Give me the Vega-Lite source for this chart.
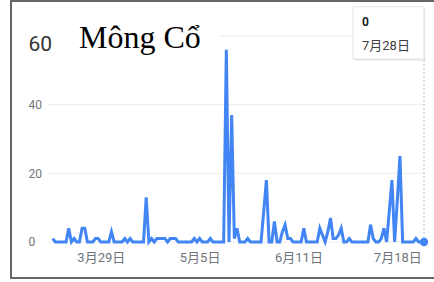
{
  "$schema": "https://vega.github.io/schema/vega-lite/v6.json",
  "width": 423,
  "height": 277,
  "autosize": "none",
  "padding": {"left": 11, "top": 1, "right": 0, "bottom": 4},
  "background": "white",
  "config": {"view": {"stroke": null}, "font": "Roboto, 'Noto Sans CJK SC', sans-serif"},
  "datasets": {
    "trend": [
      {"d":"2020-03-11T00:00:00","v":1},{"d":"2020-03-12T00:00:00","v":0},{"d":"2020-03-13T00:00:00","v":0},{"d":"2020-03-14T00:00:00","v":0},{"d":"2020-03-15T00:00:00","v":0},{"d":"2020-03-16T00:00:00","v":0},{"d":"2020-03-17T00:00:00","v":4},{"d":"2020-03-18T00:00:00","v":0},{"d":"2020-03-19T00:00:00","v":1},{"d":"2020-03-20T00:00:00","v":0},
      {"d":"2020-03-21T00:00:00","v":0},{"d":"2020-03-22T00:00:00","v":4},{"d":"2020-03-23T00:00:00","v":4},{"d":"2020-03-24T00:00:00","v":0},{"d":"2020-03-25T00:00:00","v":0},{"d":"2020-03-26T00:00:00","v":0},{"d":"2020-03-27T00:00:00","v":1},{"d":"2020-03-28T00:00:00","v":1},{"d":"2020-03-29T00:00:00","v":0},{"d":"2020-03-30T00:00:00","v":0},
      {"d":"2020-03-31T00:00:00","v":0},{"d":"2020-04-01T00:00:00","v":0},{"d":"2020-04-02T00:00:00","v":3},{"d":"2020-04-03T00:00:00","v":0},{"d":"2020-04-04T00:00:00","v":0},{"d":"2020-04-05T00:00:00","v":0},{"d":"2020-04-06T00:00:00","v":0},{"d":"2020-04-07T00:00:00","v":1},{"d":"2020-04-08T00:00:00","v":0},{"d":"2020-04-09T00:00:00","v":1},
      {"d":"2020-04-10T00:00:00","v":0},{"d":"2020-04-11T00:00:00","v":0},{"d":"2020-04-12T00:00:00","v":0},{"d":"2020-04-13T00:00:00","v":0},{"d":"2020-04-14T00:00:00","v":0},{"d":"2020-04-15T00:00:00","v":13},{"d":"2020-04-16T00:00:00","v":0},{"d":"2020-04-17T00:00:00","v":1},{"d":"2020-04-18T00:00:00","v":0},{"d":"2020-04-19T00:00:00","v":1},
      {"d":"2020-04-20T00:00:00","v":1},{"d":"2020-04-21T00:00:00","v":1},{"d":"2020-04-22T00:00:00","v":1},{"d":"2020-04-23T00:00:00","v":0},{"d":"2020-04-24T00:00:00","v":1},{"d":"2020-04-25T00:00:00","v":1},{"d":"2020-04-26T00:00:00","v":1},{"d":"2020-04-27T00:00:00","v":0},{"d":"2020-04-28T00:00:00","v":0},{"d":"2020-04-29T00:00:00","v":0},
      {"d":"2020-04-30T00:00:00","v":0},{"d":"2020-05-01T00:00:00","v":0},{"d":"2020-05-02T00:00:00","v":0},{"d":"2020-05-03T00:00:00","v":1},{"d":"2020-05-04T00:00:00","v":0},{"d":"2020-05-05T00:00:00","v":1},{"d":"2020-05-06T00:00:00","v":0},{"d":"2020-05-07T00:00:00","v":0},{"d":"2020-05-08T00:00:00","v":0},{"d":"2020-05-09T00:00:00","v":1},
      {"d":"2020-05-10T00:00:00","v":0},{"d":"2020-05-11T00:00:00","v":0},{"d":"2020-05-12T00:00:00","v":0},{"d":"2020-05-13T00:00:00","v":0},{"d":"2020-05-14T00:00:00","v":0},{"d":"2020-05-15T00:00:00","v":56},{"d":"2020-05-16T00:00:00","v":0},{"d":"2020-05-17T00:00:00","v":37},{"d":"2020-05-18T00:00:00","v":1},{"d":"2020-05-19T00:00:00","v":4},
      {"d":"2020-05-20T00:00:00","v":0},{"d":"2020-05-21T00:00:00","v":0},{"d":"2020-05-22T00:00:00","v":0},{"d":"2020-05-23T00:00:00","v":1},{"d":"2020-05-24T00:00:00","v":0},{"d":"2020-05-25T00:00:00","v":0},{"d":"2020-05-26T00:00:00","v":0},{"d":"2020-05-27T00:00:00","v":0},{"d":"2020-05-28T00:00:00","v":0},{"d":"2020-05-29T00:00:00","v":9},
      {"d":"2020-05-30T00:00:00","v":18},{"d":"2020-05-31T00:00:00","v":0},{"d":"2020-06-01T00:00:00","v":0},{"d":"2020-06-02T00:00:00","v":6},{"d":"2020-06-03T00:00:00","v":0},{"d":"2020-06-04T00:00:00","v":0},{"d":"2020-06-05T00:00:00","v":3},{"d":"2020-06-06T00:00:00","v":5},{"d":"2020-06-07T00:00:00","v":1},{"d":"2020-06-08T00:00:00","v":1},
      {"d":"2020-06-09T00:00:00","v":0},{"d":"2020-06-10T00:00:00","v":0},{"d":"2020-06-11T00:00:00","v":0},{"d":"2020-06-12T00:00:00","v":0},{"d":"2020-06-13T00:00:00","v":4},{"d":"2020-06-14T00:00:00","v":0},{"d":"2020-06-15T00:00:00","v":0},{"d":"2020-06-16T00:00:00","v":0},{"d":"2020-06-17T00:00:00","v":0},{"d":"2020-06-18T00:00:00","v":0},
      {"d":"2020-06-19T00:00:00","v":4},{"d":"2020-06-20T00:00:00","v":2},{"d":"2020-06-21T00:00:00","v":0},{"d":"2020-06-22T00:00:00","v":3},{"d":"2020-06-23T00:00:00","v":7},{"d":"2020-06-24T00:00:00","v":1},{"d":"2020-06-25T00:00:00","v":1},{"d":"2020-06-26T00:00:00","v":2},{"d":"2020-06-27T00:00:00","v":4},{"d":"2020-06-28T00:00:00","v":0},
      {"d":"2020-06-29T00:00:00","v":0},{"d":"2020-06-30T00:00:00","v":1},{"d":"2020-07-01T00:00:00","v":0},{"d":"2020-07-02T00:00:00","v":0},{"d":"2020-07-03T00:00:00","v":0},{"d":"2020-07-04T00:00:00","v":0},{"d":"2020-07-05T00:00:00","v":0},{"d":"2020-07-06T00:00:00","v":0},{"d":"2020-07-07T00:00:00","v":0},{"d":"2020-07-08T00:00:00","v":5},
      {"d":"2020-07-09T00:00:00","v":1},{"d":"2020-07-10T00:00:00","v":0},{"d":"2020-07-11T00:00:00","v":0},{"d":"2020-07-12T00:00:00","v":1},{"d":"2020-07-13T00:00:00","v":4},{"d":"2020-07-14T00:00:00","v":0},{"d":"2020-07-15T00:00:00","v":9},{"d":"2020-07-16T00:00:00","v":18},{"d":"2020-07-17T00:00:00","v":0},{"d":"2020-07-18T00:00:00","v":12},
      {"d":"2020-07-19T00:00:00","v":25},{"d":"2020-07-20T00:00:00","v":0},{"d":"2020-07-21T00:00:00","v":0},{"d":"2020-07-22T00:00:00","v":0},{"d":"2020-07-23T00:00:00","v":0},{"d":"2020-07-24T00:00:00","v":0},{"d":"2020-07-25T00:00:00","v":1},{"d":"2020-07-26T00:00:00","v":0},{"d":"2020-07-27T00:00:00","v":0},{"d":"2020-07-28T00:00:00","v":0}
    ],
    "hover": [{"d":"2020-07-28T00:00:00","v":0}],
    "grid": [{"g":0},{"g":20},{"g":40}],
    "grid60": [{"g":60}],
    "frame": [{"k":"frame"}],
    "label": [{"t":"Mông Cổ"}]
  },
  "layer": [
    {
      "data": {"name": "frame"},
      "mark": {"type": "rect", "filled": false, "color": "#666666", "strokeWidth": 2, "clip": false},
      "encoding": {
        "x": {
          "datum": {"year":2020,"month":2,"date":24,"hours":9,"minutes":20}, "type": "temporal", "title": null,
          "scale": {"domain": [{"year":2020,"month":2,"date":24,"hours":9,"minutes":20}, {"year":2020,"month":7,"date":31,"hours":17,"minutes":51}], "nice": false},
          "axis": {
            "title": null,
            "values": [{"year":2020,"month":3,"date":29}, {"year":2020,"month":5,"date":5}, {"year":2020,"month":6,"date":11}, {"year":2020,"month":7,"date":18}],
            "format": "%-m月%-d日", "orient": "bottom", "offset": -29, "domain": false, "ticks": false, "tickSize": 0,
            "grid": false, "labelPadding": 2, "labelFontSize": 13, "labelColor": "#70757a", "labelFlush": false
          }
        },
        "x2": {"datum": {"year":2020,"month":8,"date":20}},
        "y": {
          "datum": -10.49, "type": "quantitative", "title": null,
          "scale": {"domain": [-10.49, 70.19], "nice": false, "zero": false},
          "axis": {
            "title": null,
            "values": [0, 20, 40, 60], "orient": "left", "offset": -17, "domain": false, "ticks": false, "tickSize": 0, "grid": false,
            "labelAlign": "left", "labelBaseline": "middle", "labelPadding": 0,
            "labelFontSize": {"condition": {"test": "datum.value == 60", "value": 21}, "value": 12},
            "labelColor": {"condition": {"test": "datum.value == 60", "value": "#333333"}, "value": "#70757a"},
            "labelOffset": {"condition": {"test": "datum.value == 60", "value": 9}, "value": 0}
          }
        },
        "y2": {"datum": 70.19}
      }
    },
    {
      "data": {"name": "grid"},
      "mark": {"type": "rule", "color": "#ececec", "strokeWidth": 1},
      "encoding": {
        "x": {"datum": {"year":2020,"month":3,"date":9,"hours":6}, "type": "temporal", "title": null},
        "x2": {"datum": {"year":2020,"month":7,"date":28,"hours":12}},
        "y": {"field": "g", "type": "quantitative", "title": null}
      }
    },
    {
      "data": {"name": "grid60"},
      "mark": {"type": "rule", "color": "#ececec", "strokeWidth": 1},
      "encoding": {
        "x": {"datum": {"year":2020,"month":5,"date":12,"hours":14}, "type": "temporal", "title": null},
        "x2": {"datum": {"year":2020,"month":7,"date":28,"hours":12}},
        "y": {"field": "g", "type": "quantitative", "title": null}
      }
    },
    {
      "data": {"name": "hover"},
      "mark": {"type": "rule", "color": "#bdbdbd", "strokeWidth": 1, "strokeDash": [2, 2]},
      "encoding": {
        "x": {"field": "d", "type": "temporal", "title": null},
        "y": {"field": "v", "type": "quantitative", "title": null},
        "y2": {"datum": 53.3}
      }
    },
    {
      "data": {"name": "trend"},
      "mark": {"type": "line", "color": "#4285f4", "strokeWidth": 3, "strokeJoin": "miter", "clip": false},
      "encoding": {
        "x": {"field": "d", "type": "temporal", "title": null},
        "y": {"field": "v", "type": "quantitative", "title": null}
      }
    },
    {
      "data": {"name": "hover"},
      "mark": {"type": "point", "filled": true, "color": "#4285f4", "size": 70, "opacity": 1},
      "encoding": {
        "x": {"field": "d", "type": "temporal", "title": null},
        "y": {"field": "v", "type": "quantitative", "title": null}
      }
    },
    {
      "data": {"name": "label"},
      "mark": {"type": "text", "font": "Liberation Serif", "fontSize": 32, "align": "left", "baseline": "alphabetic", "color": "#000000"},
      "encoding": {
        "x": {"datum": {"year":2020,"month":3,"date":20,"hours":20}, "type": "temporal", "title": null},
        "y": {"datum": 56.5, "type": "quantitative", "title": null},
        "text": {"field": "t"}
      }
    },
    {
      "data": {"name": "hover"},
      "mark": {"type": "rect", "fill": "#cfcfcf", "opacity": 0.6, "xOffset": 1, "x2Offset": 1, "yOffset": 1.5, "y2Offset": 1.5},
      "encoding": {
        "x": {"field": "d", "type": "temporal", "title": null},
        "x2": {"datum": {"year":2020,"month":7,"date":1,"hours":10}},
        "y": {"datum": 53.3, "type": "quantitative", "title": null},
        "y2": {"datum": 68.5}
      }
    },
    {
      "data": {"name": "hover"},
      "mark": {"type": "rect", "fill": "#ffffff", "stroke": "#e6e6e6", "strokeWidth": 1},
      "encoding": {
        "x": {"field": "d", "type": "temporal", "title": null},
        "x2": {"datum": {"year":2020,"month":7,"date":1,"hours":10}},
        "y": {"datum": 53.3, "type": "quantitative", "title": null},
        "y2": {"datum": 68.5}
      }
    },
    {
      "data": {"name": "hover"},
      "mark": {"type": "text", "fontSize": 12, "fontWeight": "bold", "align": "left", "baseline": "alphabetic", "color": "#202124"},
      "encoding": {
        "x": {"datum": {"year":2020,"month":7,"date":4,"hours":19}, "type": "temporal", "title": null},
        "y": {"datum": 62.9, "type": "quantitative", "title": null},
        "text": {"field": "v", "type": "quantitative"}
      }
    },
    {
      "data": {"name": "hover"},
      "mark": {"type": "text", "fontSize": 13, "align": "left", "baseline": "alphabetic", "color": "#3c4043"},
      "encoding": {
        "x": {"datum": {"year":2020,"month":7,"date":4,"hours":19}, "type": "temporal", "title": null},
        "y": {"datum": 55.9, "type": "quantitative", "title": null},
        "text": {"field": "d", "type": "temporal", "format": "%-m月%-d日"}
      }
    }
  ]
}
